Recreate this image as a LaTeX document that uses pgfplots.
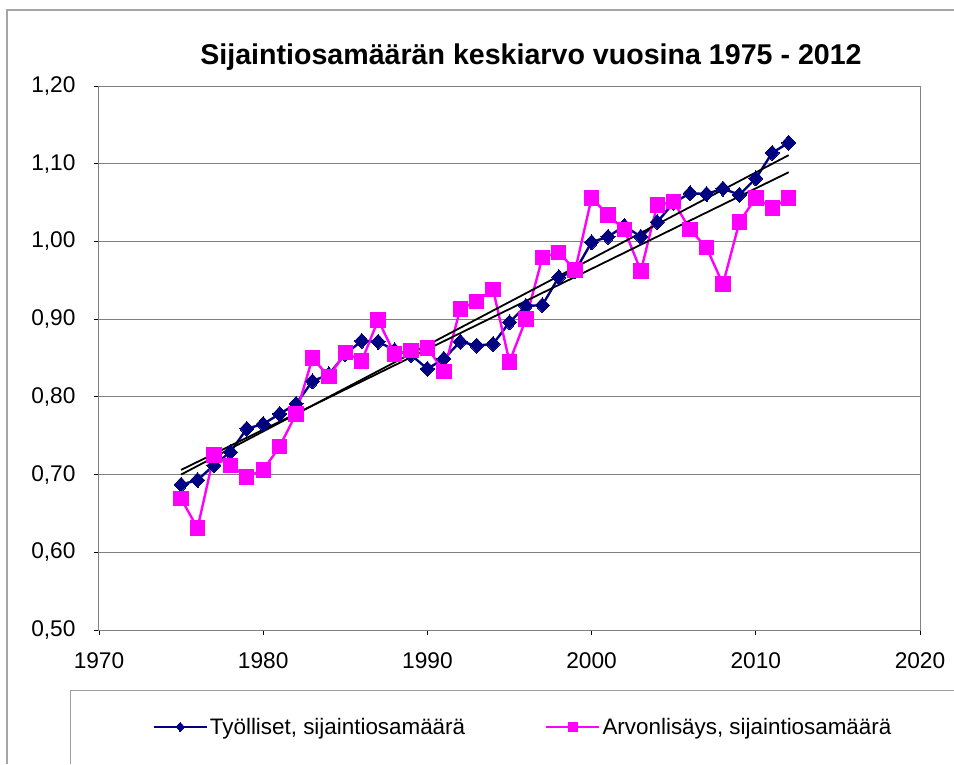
\documentclass[border=0pt]{standalone}
\usepackage{pgfplots}
\pgfplotsset{compat=1.18}
\usepackage{fontspec}
\setmainfont{Liberation Sans}
\definecolor{navyser}{RGB}{0,0,128}
\definecolor{magser}{RGB}{255,0,255}
\definecolor{gridg}{RGB}{128,128,128}
\begin{document}
\begin{tikzpicture}[x=1pt,y=1pt]
\path[use as bounding box] (0,0) rectangle (954,764);
% outer chart frame
\draw[gridg!70, line width=1.2pt] (7,0) -- (7,754) -- (954,754);
% legend frame
\draw[gridg!75, line width=1pt] (70,0) -- (70,74) -- (954,74);
\begin{axis}[
  at={(99pt,134pt)}, anchor=south west,
  scale only axis, width=821pt, height=544pt,
  xmin=1970, xmax=2020, ymin=0.5, ymax=1.2,
  xtick={1970,1980,...,2020},
  ytick={0.5,0.6,...,1.21},
  xtick pos=left, ytick pos=left,
  tick align=outside, major tick length=5pt,
  tick style={black, line width=0.8pt},
  axis line style={gridg, line width=1pt},
  ymajorgrids, grid style={gridg, line width=1pt},
  /pgf/number format/assume math mode=true,
  xticklabel style={/pgf/number format/1000 sep={}, /tikz/font=\fontsize{22.7}{26}\selectfont, /tikz/yshift=-14pt},
  yticklabel style={/pgf/number format/fixed, /pgf/number format/fixed zerofill, /pgf/number format/precision=2, /pgf/number format/use comma, /tikz/font=\fontsize{22.7}{26}\selectfont, /tikz/xshift=-15pt},
  legend columns=2,
  legend style={at={(0.5164,-0.178)}, anchor=center, draw=none, fill=none,
    font=\fontsize{22.4}{26}\selectfont,
    /tikz/every even column/.append style={column sep=78pt},
    nodes={inner sep=2pt}},
  legend image code/.code={\draw[mark size=4.5pt, mark repeat=2,mark phase=2] plot coordinates {(0pt,0pt)(26.5pt,0pt)(53pt,0pt)};},
]
\addplot[navyser, line width=2.4pt, mark=diamond*, mark size=7.5pt, mark options={solid, fill=navyser, line width=0pt, xscale=1.25}] coordinates {
(1975,0.687)(1976,0.693)(1977,0.712)(1978,0.729)(1979,0.759)(1980,0.765)(1981,0.778)(1982,0.791)(1983,0.820)(1984,0.829)
(1985,0.855)(1986,0.872)(1987,0.871)(1988,0.860)(1989,0.854)(1990,0.836)(1991,0.849)(1992,0.871)(1993,0.866)(1994,0.868)
(1995,0.896)(1996,0.917)(1997,0.918)(1998,0.954)(1999,0.962)(2000,0.999)(2001,1.006)(2002,1.020)(2003,1.006)(2004,1.025)
(2005,1.050)(2006,1.062)(2007,1.061)(2008,1.068)(2009,1.060)(2010,1.081)(2011,1.114)(2012,1.127)};
\addlegendentry{Työlliset, sijaintiosamäärä}
\addplot[magser, line width=2.4pt, mark=square*, mark size=7.2pt, mark options={solid, fill=magser, line width=0pt}] coordinates {
(1975,0.669)(1976,0.631)(1977,0.725)(1978,0.712)(1979,0.697)(1980,0.706)(1981,0.736)(1982,0.778)(1983,0.850)(1984,0.826)
(1985,0.857)(1986,0.846)(1987,0.899)(1988,0.855)(1989,0.860)(1990,0.863)(1991,0.833)(1992,0.913)(1993,0.923)(1994,0.938)
(1995,0.845)(1996,0.900)(1997,0.979)(1998,0.986)(1999,0.963)(2000,1.056)(2001,1.034)(2002,1.015)(2003,0.962)(2004,1.047)
(2005,1.051)(2006,1.015)(2007,0.992)(2008,0.945)(2009,1.025)(2010,1.056)(2011,1.043)(2012,1.056)};
\addlegendentry{Arvonlisäys, sijaintiosamäärä}
\addplot[black, line width=1.8pt, forget plot] coordinates {(1975,0.700)(2012,1.111)};
\addplot[black, line width=1.8pt, forget plot] coordinates {(1975,0.706)(2012,1.089)};
\end{axis}
\node[font=\fontsize{28.6}{32}\selectfont\bfseries] at (531,707) {Sijaintiosamäärän keskiarvo vuosina 1975 - 2012};
\end{tikzpicture}
\end{document}
